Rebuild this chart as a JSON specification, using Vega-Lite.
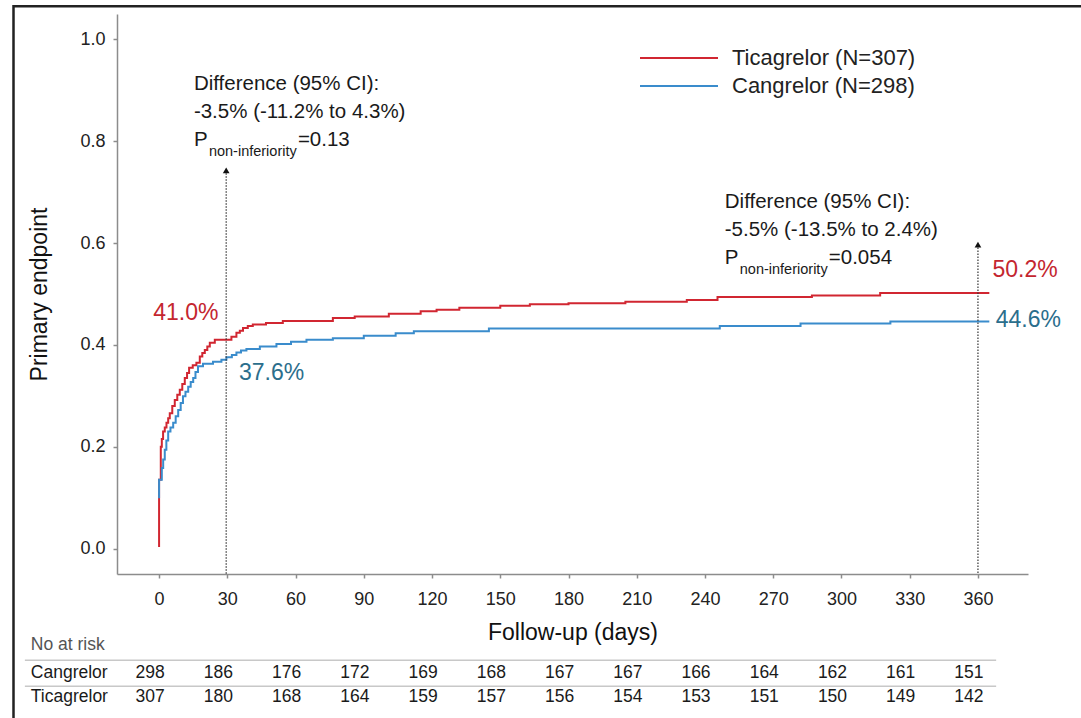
{
  "$schema": "https://vega.github.io/schema/vega-lite/v6.json",
  "width": 911,
  "height": 560,
  "autosize": {"type": "none"},
  "padding": {"left": 117, "top": 14, "right": 53, "bottom": 144},
  "background": "#ffffff",
  "config": {
    "font": "Liberation Sans",
    "view": {"stroke": null},
    "axis": {
      "grid": false,
      "domainColor": "#8c8c8c",
      "domainWidth": 1.5,
      "tickColor": "#8c8c8c",
      "tickWidth": 1.5,
      "labelColor": "#222222",
      "labelFont": "Liberation Sans",
      "labelFontSize": 18,
      "titleFont": "Liberation Sans",
      "titleFontSize": 23,
      "titleFontWeight": "normal",
      "titleColor": "#111111"
    },
    "legend": {
      "orient": "none",
      "legendX": 580,
      "legendY": 33,
      "title": null,
      "padding": 0,
      "symbolType": "M-6.8,0H1",
      "symbolSize": 400,
      "symbolStrokeWidth": 2,
      "labelFont": "Liberation Sans",
      "labelFontSize": 22,
      "labelColor": "#222222",
      "labelOffset": 13,
      "labelLimit": 0,
      "rowPadding": 6
    }
  },
  "datasets": {
    "curves": [
      {"arm": "Ticagrelor (N=307)", "day": 0, "p": 0.003},
      {"arm": "Ticagrelor (N=307)", "day": 0, "p": 0.135},
      {"arm": "Ticagrelor (N=307)", "day": 0.75, "p": 0.2},
      {"arm": "Ticagrelor (N=307)", "day": 1.2, "p": 0.215},
      {"arm": "Ticagrelor (N=307)", "day": 1.76, "p": 0.23},
      {"arm": "Ticagrelor (N=307)", "day": 2.5, "p": 0.238},
      {"arm": "Ticagrelor (N=307)", "day": 3.25, "p": 0.247},
      {"arm": "Ticagrelor (N=307)", "day": 4, "p": 0.256},
      {"arm": "Ticagrelor (N=307)", "day": 4.7, "p": 0.266},
      {"arm": "Ticagrelor (N=307)", "day": 5.8, "p": 0.28},
      {"arm": "Ticagrelor (N=307)", "day": 6.9, "p": 0.292},
      {"arm": "Ticagrelor (N=307)", "day": 8, "p": 0.302},
      {"arm": "Ticagrelor (N=307)", "day": 9.1, "p": 0.312},
      {"arm": "Ticagrelor (N=307)", "day": 10.2, "p": 0.323},
      {"arm": "Ticagrelor (N=307)", "day": 11.3, "p": 0.335},
      {"arm": "Ticagrelor (N=307)", "day": 12.3, "p": 0.345},
      {"arm": "Ticagrelor (N=307)", "day": 13.2, "p": 0.355},
      {"arm": "Ticagrelor (N=307)", "day": 14.8, "p": 0.36},
      {"arm": "Ticagrelor (N=307)", "day": 16.4, "p": 0.365},
      {"arm": "Ticagrelor (N=307)", "day": 17.9, "p": 0.377},
      {"arm": "Ticagrelor (N=307)", "day": 19, "p": 0.384},
      {"arm": "Ticagrelor (N=307)", "day": 20.1, "p": 0.39},
      {"arm": "Ticagrelor (N=307)", "day": 21.2, "p": 0.397},
      {"arm": "Ticagrelor (N=307)", "day": 22.3, "p": 0.404},
      {"arm": "Ticagrelor (N=307)", "day": 24.5, "p": 0.41},
      {"arm": "Ticagrelor (N=307)", "day": 31.8, "p": 0.416},
      {"arm": "Ticagrelor (N=307)", "day": 34, "p": 0.424},
      {"arm": "Ticagrelor (N=307)", "day": 35.5, "p": 0.428},
      {"arm": "Ticagrelor (N=307)", "day": 36.9, "p": 0.433},
      {"arm": "Ticagrelor (N=307)", "day": 39, "p": 0.437},
      {"arm": "Ticagrelor (N=307)", "day": 41.2, "p": 0.44},
      {"arm": "Ticagrelor (N=307)", "day": 47, "p": 0.443},
      {"arm": "Ticagrelor (N=307)", "day": 54.4, "p": 0.447},
      {"arm": "Ticagrelor (N=307)", "day": 76.4, "p": 0.453},
      {"arm": "Ticagrelor (N=307)", "day": 86, "p": 0.456},
      {"arm": "Ticagrelor (N=307)", "day": 101, "p": 0.461},
      {"arm": "Ticagrelor (N=307)", "day": 115, "p": 0.466},
      {"arm": "Ticagrelor (N=307)", "day": 122, "p": 0.469},
      {"arm": "Ticagrelor (N=307)", "day": 132, "p": 0.473},
      {"arm": "Ticagrelor (N=307)", "day": 150, "p": 0.477},
      {"arm": "Ticagrelor (N=307)", "day": 163, "p": 0.48},
      {"arm": "Ticagrelor (N=307)", "day": 180, "p": 0.482},
      {"arm": "Ticagrelor (N=307)", "day": 205, "p": 0.485},
      {"arm": "Ticagrelor (N=307)", "day": 232, "p": 0.488},
      {"arm": "Ticagrelor (N=307)", "day": 245.5, "p": 0.494},
      {"arm": "Ticagrelor (N=307)", "day": 287, "p": 0.497},
      {"arm": "Ticagrelor (N=307)", "day": 317, "p": 0.502},
      {"arm": "Ticagrelor (N=307)", "day": 365, "p": 0.502},
      {"arm": "Cangrelor (N=298)", "day": 0, "p": 0.099},
      {"arm": "Cangrelor (N=298)", "day": 0, "p": 0.135},
      {"arm": "Cangrelor (N=298)", "day": 1.2, "p": 0.158},
      {"arm": "Cangrelor (N=298)", "day": 1.8, "p": 0.175},
      {"arm": "Cangrelor (N=298)", "day": 2.5, "p": 0.194},
      {"arm": "Cangrelor (N=298)", "day": 3.2, "p": 0.212},
      {"arm": "Cangrelor (N=298)", "day": 4, "p": 0.23},
      {"arm": "Cangrelor (N=298)", "day": 5, "p": 0.238},
      {"arm": "Cangrelor (N=298)", "day": 6.2, "p": 0.247},
      {"arm": "Cangrelor (N=298)", "day": 7.3, "p": 0.26},
      {"arm": "Cangrelor (N=298)", "day": 8.4, "p": 0.272},
      {"arm": "Cangrelor (N=298)", "day": 9.5, "p": 0.286},
      {"arm": "Cangrelor (N=298)", "day": 10.5, "p": 0.299},
      {"arm": "Cangrelor (N=298)", "day": 11.6, "p": 0.308},
      {"arm": "Cangrelor (N=298)", "day": 12.8, "p": 0.318},
      {"arm": "Cangrelor (N=298)", "day": 13.9, "p": 0.327},
      {"arm": "Cangrelor (N=298)", "day": 15, "p": 0.335},
      {"arm": "Cangrelor (N=298)", "day": 16, "p": 0.347},
      {"arm": "Cangrelor (N=298)", "day": 17.1, "p": 0.358},
      {"arm": "Cangrelor (N=298)", "day": 19.3, "p": 0.363},
      {"arm": "Cangrelor (N=298)", "day": 23.7, "p": 0.367},
      {"arm": "Cangrelor (N=298)", "day": 27.4, "p": 0.371},
      {"arm": "Cangrelor (N=298)", "day": 29.6, "p": 0.376},
      {"arm": "Cangrelor (N=298)", "day": 32, "p": 0.38},
      {"arm": "Cangrelor (N=298)", "day": 34, "p": 0.385},
      {"arm": "Cangrelor (N=298)", "day": 36, "p": 0.389},
      {"arm": "Cangrelor (N=298)", "day": 38.4, "p": 0.392},
      {"arm": "Cangrelor (N=298)", "day": 44.3, "p": 0.397},
      {"arm": "Cangrelor (N=298)", "day": 51.6, "p": 0.402},
      {"arm": "Cangrelor (N=298)", "day": 58, "p": 0.406},
      {"arm": "Cangrelor (N=298)", "day": 64.8, "p": 0.41},
      {"arm": "Cangrelor (N=298)", "day": 76.4, "p": 0.413},
      {"arm": "Cangrelor (N=298)", "day": 90, "p": 0.418},
      {"arm": "Cangrelor (N=298)", "day": 104, "p": 0.423},
      {"arm": "Cangrelor (N=298)", "day": 112, "p": 0.427},
      {"arm": "Cangrelor (N=298)", "day": 145, "p": 0.432},
      {"arm": "Cangrelor (N=298)", "day": 246.5, "p": 0.437},
      {"arm": "Cangrelor (N=298)", "day": 282, "p": 0.442},
      {"arm": "Cangrelor (N=298)", "day": 321.5, "p": 0.446},
      {"arm": "Cangrelor (N=298)", "day": 365, "p": 0.446}
    ],
    "atRisk": [
      {"arm": "Cangrelor", "day": 0, "n": 298},
      {"arm": "Cangrelor", "day": 30, "n": 186},
      {"arm": "Cangrelor", "day": 60, "n": 176},
      {"arm": "Cangrelor", "day": 90, "n": 172},
      {"arm": "Cangrelor", "day": 120, "n": 169},
      {"arm": "Cangrelor", "day": 150, "n": 168},
      {"arm": "Cangrelor", "day": 180, "n": 167},
      {"arm": "Cangrelor", "day": 210, "n": 167},
      {"arm": "Cangrelor", "day": 240, "n": 166},
      {"arm": "Cangrelor", "day": 270, "n": 164},
      {"arm": "Cangrelor", "day": 300, "n": 162},
      {"arm": "Cangrelor", "day": 330, "n": 161},
      {"arm": "Cangrelor", "day": 360, "n": 151},
      {"arm": "Ticagrelor", "day": 0, "n": 307},
      {"arm": "Ticagrelor", "day": 30, "n": 180},
      {"arm": "Ticagrelor", "day": 60, "n": 168},
      {"arm": "Ticagrelor", "day": 90, "n": 164},
      {"arm": "Ticagrelor", "day": 120, "n": 159},
      {"arm": "Ticagrelor", "day": 150, "n": 157},
      {"arm": "Ticagrelor", "day": 180, "n": 156},
      {"arm": "Ticagrelor", "day": 210, "n": 154},
      {"arm": "Ticagrelor", "day": 240, "n": 153},
      {"arm": "Ticagrelor", "day": 270, "n": 151},
      {"arm": "Ticagrelor", "day": 300, "n": 150},
      {"arm": "Ticagrelor", "day": 330, "n": 149},
      {"arm": "Ticagrelor", "day": 360, "n": 142}
    ]
  },
  "layer": [
    {
      "data": {"name": "curves"},
      "mark": {"type": "line", "interpolate": "step-after", "strokeWidth": 2},
      "encoding": {
        "x": {
          "field": "day",
          "type": "quantitative",
          "scale": {"domain": [-18.5, 382], "nice": false, "zero": false},
          "axis": {
            "title": "Follow-up (days)",
            "values": [0, 30, 60, 90, 120, 150, 180, 210, 240, 270, 300, 330, 360],
            "format": "d",
            "tickSize": 4,
            "labelPadding": 12,
            "titlePadding": 13,
            "labelFlush": false,
            "labelOverlap": false
          }
        },
        "y": {
          "field": "p",
          "type": "quantitative",
          "scale": {"domain": [-0.05, 1.05], "nice": false, "zero": false},
          "axis": {
            "title": "Primary endpoint",
            "values": [0, 0.2, 0.4, 0.6, 0.8, 1.0],
            "format": ".1f",
            "tickSize": 4,
            "labelPadding": 8,
            "titlePadding": 28
          }
        },
        "color": {
          "field": "arm",
          "type": "nominal",
          "scale": {"domain": ["Ticagrelor (N=307)", "Cangrelor (N=298)"], "range": ["#d12631", "#3a8ccc"]}
        },
        "order": [{"field": "day"}, {"field": "p"}]
      }
    },
    {
      "data": {"values": [{}]},
      "mark": {"type": "rect", "fill": null, "stroke": "#222222", "strokeWidth": 2.5},
      "encoding": {
        "x": {"datum": -64, "type": "quantitative"},
        "x2": {"datum": 430},
        "y": {"datum": 1.065, "type": "quantitative"},
        "y2": {"datum": -0.45}
      }
    },
    {
      "data": {"values": [{"day": 29.5, "p": 0.743}, {"day": 360, "p": 0.597}]},
      "layer": [
        {
          "mark": {"type": "rule", "color": "#333333", "strokeWidth": 1.2, "strokeDash": [1.5, 1.5]},
          "encoding": {
            "x": {"field": "day", "type": "quantitative"},
            "y": {"field": "p", "type": "quantitative"},
            "y2": {"datum": -0.05}
          }
        },
        {
          "mark": {"type": "point", "shape": "triangle-up", "filled": true, "color": "#111111", "size": 45, "opacity": 1},
          "encoding": {
            "x": {"field": "day", "type": "quantitative"},
            "y": {"field": "p", "type": "quantitative"}
          }
        }
      ]
    },
    {
      "data": {"values": [
        {"day": 15.3, "p": 0.9003, "t": "Difference (95% CI):"},
        {"day": 15.3, "p": 0.8456, "t": "-3.5% (-11.2% to 4.3%)"},
        {"day": 248.7, "p": 0.6683, "t": "Difference (95% CI):"},
        {"day": 248.7, "p": 0.6136, "t": "-5.5% (-13.5% to 2.4%)"}
      ]},
      "mark": {"type": "text", "align": "left", "baseline": "alphabetic", "fontSize": 20.5, "color": "#1a1a1a", "font": "Liberation Sans"},
      "encoding": {
        "x": {"field": "day", "type": "quantitative"},
        "y": {"field": "p", "type": "quantitative"},
        "text": {"field": "t"}
      }
    },
    {
      "data": {"values": [
        {"day": 15.3, "p": 0.7906, "pval": "=0.13"},
        {"day": 248.7, "p": 0.5585, "pval": "=0.054"}
      ]},
      "layer": [
        {
          "mark": {"type": "text", "align": "left", "baseline": "alphabetic", "fontSize": 20.5, "color": "#1a1a1a", "font": "Liberation Sans", "text": "P"},
          "encoding": {
            "x": {"field": "day", "type": "quantitative"},
            "y": {"field": "p", "type": "quantitative"}
          }
        },
        {
          "mark": {"type": "text", "align": "left", "baseline": "alphabetic", "fontSize": 14.5, "color": "#1a1a1a", "font": "Liberation Sans", "text": "non-inferiority", "dx": 15, "dy": 10},
          "encoding": {
            "x": {"field": "day", "type": "quantitative"},
            "y": {"field": "p", "type": "quantitative"}
          }
        },
        {
          "mark": {"type": "text", "align": "left", "baseline": "alphabetic", "fontSize": 20.5, "color": "#1a1a1a", "font": "Liberation Sans", "dx": 104},
          "encoding": {
            "x": {"field": "day", "type": "quantitative"},
            "y": {"field": "p", "type": "quantitative"},
            "text": {"field": "pval"}
          }
        }
      ]
    },
    {
      "data": {"values": [
        {"arm": "Ticagrelor", "day": -2.6, "p": 0.4631, "t": "41.0%"},
        {"arm": "Cangrelor", "day": 35.1, "p": 0.3451, "t": "37.6%"},
        {"arm": "Ticagrelor", "day": 366.4, "p": 0.5477, "t": "50.2%"},
        {"arm": "Cangrelor", "day": 367.8, "p": 0.4494, "t": "44.6%"}
      ]},
      "mark": {"type": "text", "align": "left", "baseline": "middle", "fontSize": 23, "font": "Liberation Sans"},
      "encoding": {
        "x": {"field": "day", "type": "quantitative"},
        "y": {"field": "p", "type": "quantitative"},
        "text": {"field": "t"},
        "color": {"condition": {"test": "datum.arm == 'Ticagrelor'", "value": "#c4262f"}, "value": "#2b6e8c"}
      }
    },
    {
      "data": {"values": [{}]},
      "layer": [
        {
          "mark": {"type": "rule", "color": "#c8c8c8", "strokeWidth": 1.5},
          "encoding": {
            "x": {"datum": -59, "type": "quantitative"},
            "x2": {"datum": 368},
            "y": {"datum": -0.2193, "type": "quantitative"}
          }
        },
        {
          "mark": {"type": "rule", "color": "#c8c8c8", "strokeWidth": 1.5},
          "encoding": {
            "x": {"datum": -59, "type": "quantitative"},
            "x2": {"datum": 368},
            "y": {"datum": -0.2704, "type": "quantitative"}
          }
        },
        {
          "mark": {"type": "text", "align": "left", "baseline": "middle", "fontSize": 17.5, "color": "#555555", "font": "Liberation Sans", "text": "No at risk"},
          "encoding": {
            "x": {"datum": -56.4, "type": "quantitative"},
            "y": {"datum": -0.1898, "type": "quantitative"}
          }
        },
        {
          "mark": {"type": "text", "align": "left", "baseline": "middle", "fontSize": 17.5, "color": "#1a1a1a", "font": "Liberation Sans", "text": "Cangrelor"},
          "encoding": {
            "x": {"datum": -56.4, "type": "quantitative"},
            "y": {"datum": -0.2448, "type": "quantitative"}
          }
        },
        {
          "mark": {"type": "text", "align": "left", "baseline": "middle", "fontSize": 17.5, "color": "#1a1a1a", "font": "Liberation Sans", "text": "Ticagrelor"},
          "encoding": {
            "x": {"datum": -56.4, "type": "quantitative"},
            "y": {"datum": -0.292, "type": "quantitative"}
          }
        }
      ]
    },
    {
      "data": {"name": "atRisk"},
      "transform": [{"filter": "datum.arm == 'Cangrelor'"}],
      "mark": {"type": "text", "align": "center", "baseline": "middle", "fontSize": 17.5, "color": "#1a1a1a", "font": "Liberation Sans", "dx": -9},
      "encoding": {
        "x": {"field": "day", "type": "quantitative"},
        "y": {"datum": -0.2448, "type": "quantitative"},
        "text": {"field": "n"}
      }
    },
    {
      "data": {"name": "atRisk"},
      "transform": [{"filter": "datum.arm == 'Ticagrelor'"}],
      "mark": {"type": "text", "align": "center", "baseline": "middle", "fontSize": 17.5, "color": "#1a1a1a", "font": "Liberation Sans", "dx": -9},
      "encoding": {
        "x": {"field": "day", "type": "quantitative"},
        "y": {"datum": -0.292, "type": "quantitative"},
        "text": {"field": "n"}
      }
    }
  ]
}
